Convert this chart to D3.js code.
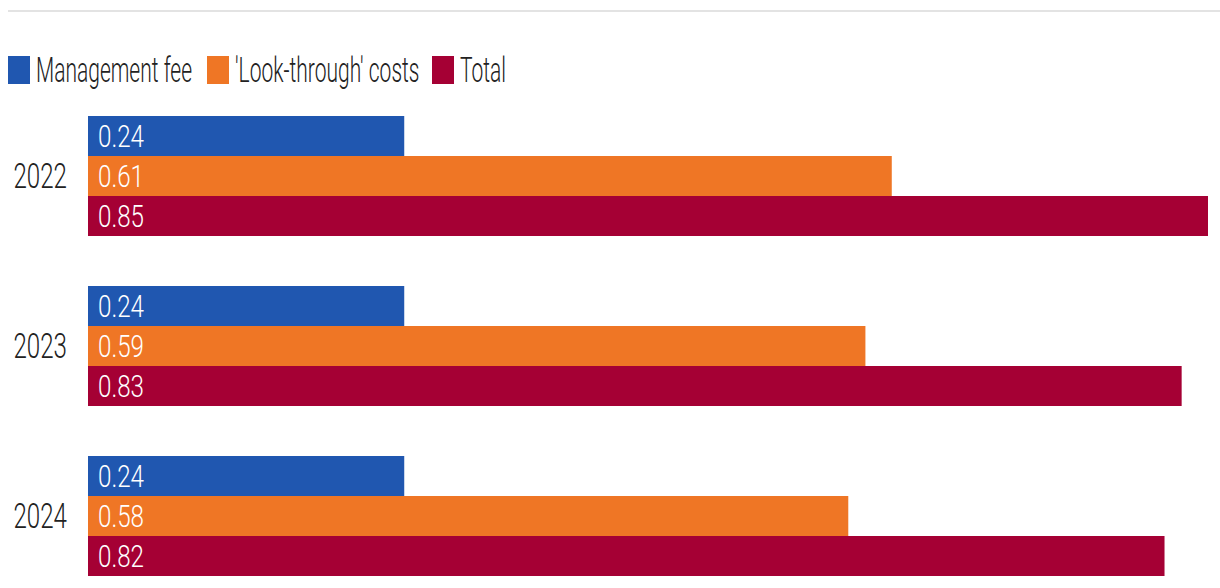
<!DOCTYPE html>
<html>
<head>
<meta charset="utf-8">
<script src="https://cdn.jsdelivr.net/npm/d3@7"></script>
<style>
  body { margin: 0; background: #fff; }
  svg text { font-family: Roboto, "Liberation Sans", sans-serif; font-weight: 300; }
</style>
</head>
<body>
<div class="canvas"></div>
<script>
const years = ['2022', '2023', '2024'];
const seriesNames = ['Management fee', "'Look-through' costs", 'Total'];
const mgmtFee = [0.24, 0.24, 0.24];
const lookThrough = [0.61, 0.59, 0.577];
const total = [0.85, 0.83, 0.817];
const colors = ['#2057b0', '#ef7625', '#a50034'];

const width = 1220;
const height = 588;

const svg = d3.select('.canvas')
    .append('svg')
    .attr('width', width)
    .attr('height', height);

// the original uses a condensed face, so squeeze the text sideways
const condensed = (x, y, k) => `translate(${x}, ${y}) scale(${k}, 1)`;

// top rule
svg.append('line')
    .attr('x1', 8).attr('x2', width)
    .attr('y1', 11).attr('y2', 11)
    .attr('stroke', '#e3e3e3')
    .attr('stroke-width', 2);

////////// LEGEND ///////////////////
const legendX = [8, 207, 432];
const legend = svg.append('g');
seriesNames.forEach((name, i) => {
    const g = legend.append('g').attr('transform', `translate(${legendX[i]}, 56)`);
    g.append('rect').attr('width', 22).attr('height', 28).attr('fill', colors[i]);
    g.append('text')
        .attr('transform', condensed(28, 26, 0.6))
        .attr('font-size', 35)
        .attr('fill', '#222')
        .text(name);
});

////////// SCALES ///////////////////
const rows = years.map((yr, i) => ({year: yr, values: [mgmtFee[i], lookThrough[i], total[i]]}));

// 170px step per year, bars fill 120px of it
const yGroup = d3.scaleBand()
    .domain(years)
    .range([116, 116 + 170 * 3]);

const ySub = d3.scaleBand()
    .domain([0, 1, 2])
    .range([0, 120]);

const x = d3.scaleLinear()
    .domain([0, d3.max(total)])
    .range([88, 1208]);

////////// BARS ///////////////////
const groups = svg.selectAll('g.year')
    .data(rows)
    .enter()
    .append('g')
    .attr('class', 'year')
    .attr('transform', d => `translate(0, ${yGroup(d.year)})`);

groups.append('text')
    .attr('transform', condensed(67, 60, 0.7))
    .attr('dy', '0.35em')
    .attr('text-anchor', 'end')
    .attr('font-size', 34.5)
    .attr('fill', '#222')
    .text(d => d.year);

const bars = groups.selectAll('g.bar')
    .data(d => d.values.map((v, i) => ({v, i})))
    .enter()
    .append('g')
    .attr('class', 'bar');

bars.append('rect')
    .attr('x', x(0))
    .attr('y', d => ySub(d.i))
    .attr('width', d => x(d.v) - x(0))
    .attr('height', ySub.bandwidth())
    .attr('fill', d => colors[d.i]);

bars.append('text')
    .attr('transform', d => condensed(x(0) + 10, ySub(d.i) + ySub.bandwidth() / 2, 0.78))
    .attr('dy', '0.36em')
    .attr('font-size', 31)
    .attr('fill', '#fff')
    .text(d => d3.format('.2f')(d.v));
</script>
</body>
</html>
